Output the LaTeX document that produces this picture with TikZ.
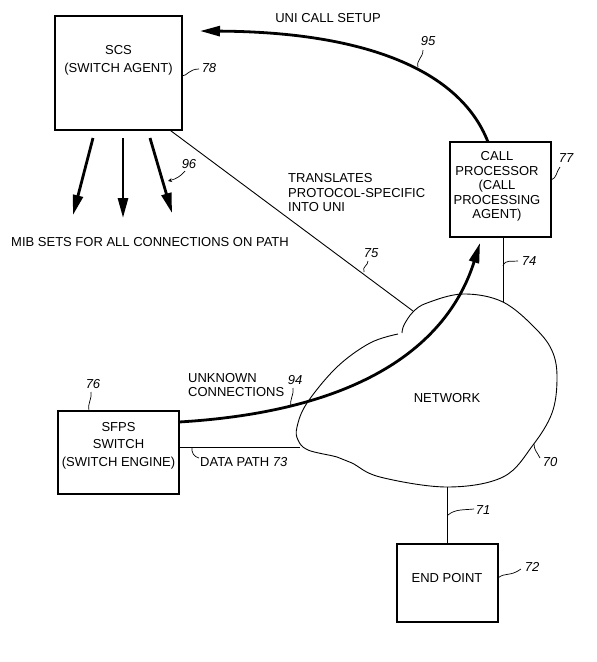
\documentclass[tikz,border=0pt]{standalone}
\usepackage{fontspec}
\setmainfont{Liberation Sans}
\usetikzlibrary{arrows.meta}
\begin{document}
\begin{tikzpicture}[x=1pt,y=-1pt,
  box/.style={draw,line width=1.3pt,inner sep=0pt},
  txt/.style={font=\fontsize{13}{14.5}\selectfont,align=center,inner sep=0pt},
  num/.style={font=\fontsize{13}{14.5}\selectfont\itshape,inner sep=0pt},
  conn/.style={line width=0.9pt},
  lead/.style={line width=0.7pt},
  heavy/.style={line width=2.8pt,-{Triangle[length=20pt,width=10pt]}},
]
\useasboundingbox[fill=white] (0,0) rectangle (597,662);

% boxes
\node[box,minimum width=127pt,minimum height=114pt] (scs) at (118.5,73) {};
\node[txt,font=\fontsize{13}{18}\selectfont] (scst) at (118.5,60) {SCS\\(SWITCH AGENT)};
\node[box,minimum width=101pt,minimum height=95pt] (cp) at (500.5,189.5) {};
\node[txt] (cpt) at (497,186.5) {CALL\\PROCESSOR\\(CALL\\PROCESSING\\AGENT)};
\node[box,minimum width=121pt,minimum height=83pt] (sfps) at (118.5,452.5) {};
\node[txt,font=\fontsize{13}{17.5}\selectfont] (sfpst) at (118.5,445.5) {SFPS\\SWITCH\\(SWITCH ENGINE)};
\node[box,minimum width=101pt,minimum height=78pt] (ep) at (447.5,583) {};
\node[txt] (ept) at (447,578.5) {END POINT};

% network cloud
\draw[conn] plot[smooth,tension=0.6] coordinates {(398,334) (370,343) (337,367) (307,403) (297,427) (298,440) (308,450) (337,457) (352,463) (380,477) (447,487) (503,477) (533,445) (552,413) (557,380) (553,353) (537,330) (503,302) (463,294) (427,303) (413,312) (404,325) (402,333)};
\coordinate (c75) at (413,311);
\coordinate (c74) at (503,302);
\coordinate (c73) at (300,447);
\coordinate (c71) at (447.5,487);
\node[txt] (net) at (447,398.5) {NETWORK};

% thin connectors
\draw[conn] (scs.south east) ++(-12,0) coordinate (s75) -- (c75);
\draw[conn] (c74 |- cp.south) -- (c74);
\draw[conn] (sfps.east |- c73) -- (c73);
\draw[conn] (ep.north) -- (c71);

% heavy arrows
\coordinate (a95s) at (488,142);
\coordinate (a95e) at (200,31);
\draw[heavy] (a95s) .. controls (460,70) and (365,32) .. (a95e);
\coordinate (a94s) at (179,422);
\coordinate (a94e) at (480,243);
\draw[heavy] (a94s) .. controls (380,410) and (452,332) .. (a94e);
\coordinate (m1s) at (93,138);  \coordinate (m1e) at (73,215);
\coordinate (m2s) at (123,138); \coordinate (m2e) at (123,218);
\coordinate (m3s) at (150,138); \coordinate (m3e) at (172,213);
\draw[heavy] (m1s) -- (m1e);
\draw[heavy] (m2s) -- (m2e);
\draw[heavy] (m3s) -- (m3e);

% texts
\node[txt] (uni) at (328,18.5) {UNI CALL SETUP};
\node[txt,align=left,anchor=west] (trans) at (288,193) {TRANSLATES\\PROTOCOL-SPECIFIC\\INTO UNI};
\node[txt] (mib) at (150,242.5) {MIB SETS FOR ALL CONNECTIONS ON PATH};
\node[txt,align=left,anchor=west] (unk) at (188,385) {UNKNOWN\\CONNECTIONS};
\node[txt,anchor=west] (dp) at (200,462.5) {DATA PATH {\itshape 73}};

% reference numerals
\node[num] (n78) at (209,68) {78};
\node[num] (n96) at (189,164) {96};
\node[num] (n75) at (371,253) {75};
\node[num] (n95) at (428,41) {95};
\node[num] (n77) at (566,158) {77};
\node[num] (n74) at (529,261) {74};
\node[num] (n94) at (295,380) {94};
\node[num] (n76) at (93,384) {76};
\node[num] (n70) at (550,462) {70};
\node[num] (n71) at (483,510) {71};
\node[num] (n72) at (532,567) {72};

% leaders
\draw[lead] (182,76) .. controls (187,76) and (189,69) .. (199,69);
\draw[lead,-{Stealth[length=4pt,width=4pt]}] (185,171) .. controls (181,176) and (176,179) .. (168,181);
\draw[lead] (364,272) .. controls (362,266) and (368,266) .. (368,261);
\draw[lead] (418,67) .. controls (416,60) and (423,58) .. (423,50);
\draw[lead] (551,180) .. controls (557,178) and (556,172) .. (560,167);
\draw[lead] (503,266) .. controls (505,259) and (512,262) .. (518,261);
\draw[lead] (291,407) .. controls (289,400) and (294,396) .. (293,388);
\draw[lead] (89,411) .. controls (87,404) and (92,400) .. (91,392);
\draw[lead] (192,447) .. controls (191,452) and (194,457) .. (199,458);
\draw[lead] (534,444) .. controls (534,450) and (537,452) .. (540,458);
\draw[lead] (448,515) .. controls (455,509) and (464,510) .. (474,509);
\draw[lead] (498,578) .. controls (505,572) and (510,577) .. (521,569);
\end{tikzpicture}
\end{document}
